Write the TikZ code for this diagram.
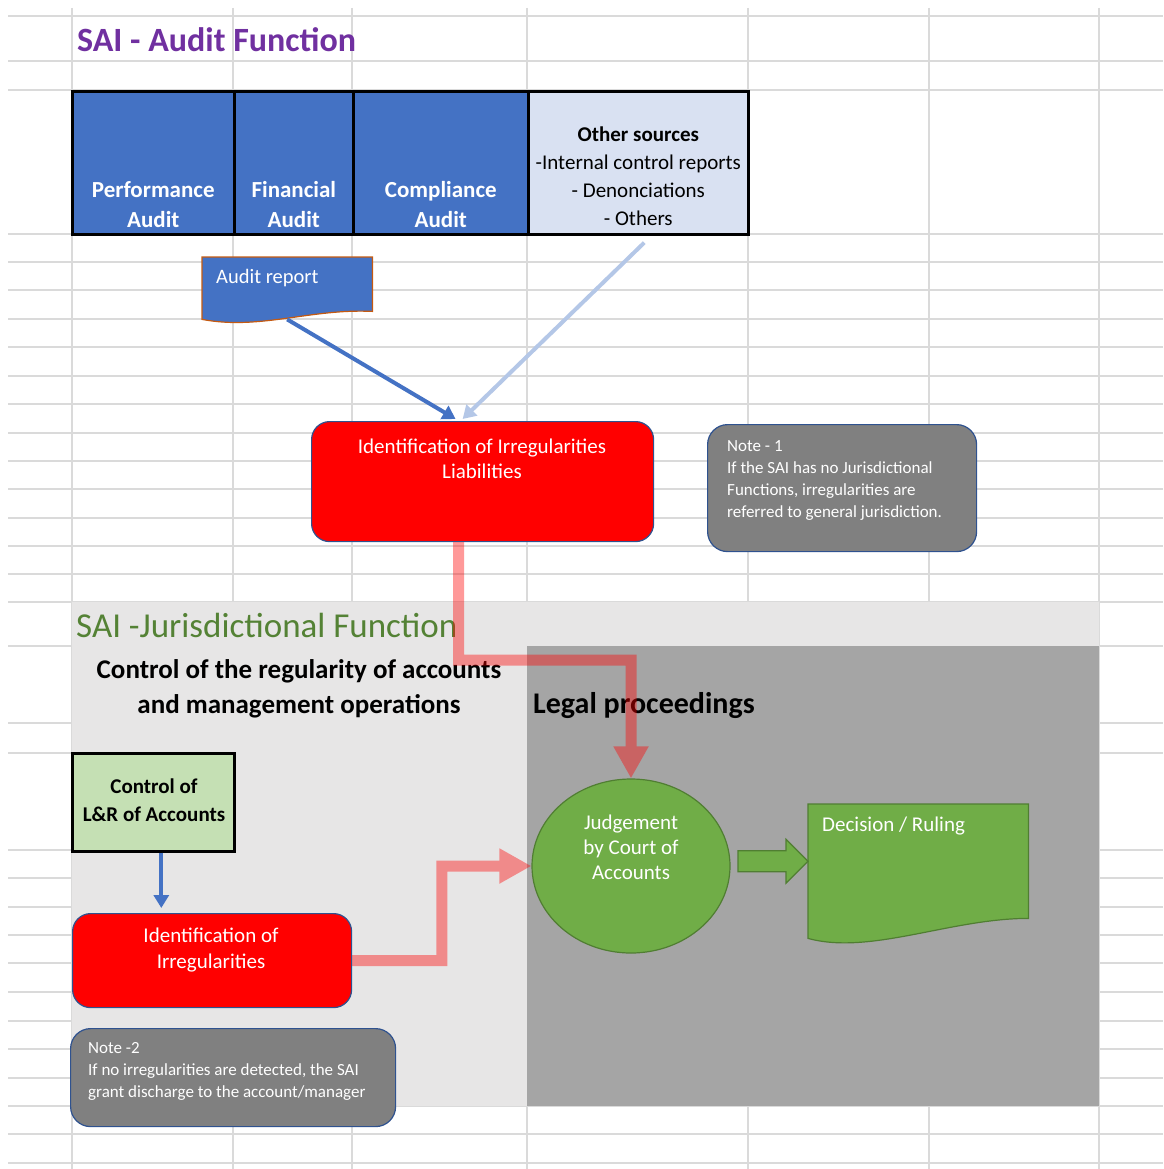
\documentclass[tikz,border=0pt]{standalone}
\usepackage{fontspec}
\setmainfont{Carlito}
\usetikzlibrary{arrows.meta,calc,shapes.geometric}

\definecolor{sheetgray}{HTML}{DADADA}
\definecolor{auditpurple}{HTML}{7030A0}
\definecolor{jurgreen}{HTML}{548235}
\definecolor{accblue}{HTML}{4472C4}
\definecolor{paleblue}{HTML}{D9E1F2}
\definecolor{arrowpale}{HTML}{B4C7E7}
\definecolor{edgeblue}{HTML}{2F528F}
\definecolor{notegray}{HTML}{808080}
\definecolor{areagray}{HTML}{E7E6E6}
\definecolor{legalgray}{HTML}{A5A5A5}
\definecolor{palegreen}{HTML}{C5E0B4}
\definecolor{leafgreen}{HTML}{70AD47}
\definecolor{darkleaf}{HTML}{507E32}
\definecolor{rustedge}{HTML}{C55A11}

\newcommand{\fs}[2]{\fontsize{#1pt}{#2pt}\selectfont}

\tikzset{
  sheetline/.style={draw=sheetgray, line width=1.6pt},
  cell/.style={draw=black, line width=2.6pt, minimum height=143pt, inner sep=0pt, anchor=north west},
  celltext/.style={text=white, font=\fs{23}{30}\bfseries, align=center, inner sep=0pt},
  sectitle/.style={font=\fs{35}{40}, inner sep=0pt, anchor=base west},
  headtext/.style={font=\fs{27}{35}\bfseries, inner sep=0pt},
  boxtext/.style={text=white, font=\fs{21}{25}, inner sep=0pt},
  notetext/.style={text=white, font=\fs{17}{22}, align=left, inner sep=0pt, anchor=north west},
  redbox/.style={draw=edgeblue, line width=1.2pt, fill=red, rounded corners=18pt, inner sep=0pt, anchor=north west},
  notebox/.style={draw=edgeblue, line width=1.2pt, fill=notegray, rounded corners=20pt, inner sep=0pt, anchor=north west},
  frame/.style={inner sep=0pt, anchor=north west},
  bluearrow/.style={draw=accblue, line width=4pt, -{Triangle[width=15pt,length=13pt]}},
  palearrow/.style={draw=arrowpale, line width=4pt, -{Triangle[width=15pt,length=13pt]}},
  pinkarrow/.style={draw=red, line width=11pt, -{Triangle[width=33pt,length=32pt]}},
  greenshape/.style={fill=leafgreen, draw=darkleaf, line width=1.2pt}
}

\begin{document}
\begin{tikzpicture}[x=1pt, y=-1pt]
\useasboundingbox (0,0) rectangle (1163,1169);

% spreadsheet grid
\foreach \y in {16,61,90,234,262,290,319,347,376,404,433,461,489,518,546,574,602,646,723,753,850,878,907,935,963,992,1021,1049,1078,1106,1134,1163}
  \draw[sheetline] (8,\y) -- (1163,\y);
\foreach \x in {72,233,352,527,748,929,1099}
  \draw[sheetline] (\x,8) -- (\x,1169);

% Audit function
\node[sectitle, text=auditpurple, font=\fs{34}{40}\bfseries] (audittitle) at (77,52) {SAI - Audit Function};

\node[cell, fill=accblue, minimum width=162pt] (perf) at (71,90) {};
\node[cell, fill=accblue, minimum width=119pt] (fin) at (233,90) {};
\node[cell, fill=accblue, minimum width=175pt] (comp) at (352,90) {};
\node[cell, fill=paleblue, minimum width=220pt] (other) at (527,90) {};
\node[celltext, anchor=south] (perftxt) at ([yshift=8pt]perf.south) {Performance\\Audit};
\node[celltext, anchor=south] (fintxt) at ([yshift=8pt]fin.south) {Financial\\Audit};
\node[celltext, anchor=south] (comptxt) at ([yshift=8pt]comp.south) {Compliance\\Audit};
\node[inner sep=0pt, font=\fs{21}{28}, align=center, anchor=south] (othertxt) at ([yshift=10pt]other.south)
  {\textbf{Other sources}\\-Internal control reports\\- Denonciations\\- Others};

% Audit report (document shape)
\node[frame, minimum width=170pt, minimum height=54pt] (report) at (202,257) {};
\filldraw[fill=accblue, draw=rustedge, line width=1.2pt] (report.north west) -- (report.north east) -- (report.south east)
  .. controls +(-62,-3) and +(58,11) .. ([yshift=-8pt]report.south west) -- cycle;
\node[boxtext, font=\fs{20.5}{25}, anchor=base west] (reporttxt) at (216,283) {Audit report};

% Irregularities / liabilities
\node[redbox, minimum width=342pt, minimum height=120pt] (liab) at (311,421) {};
\node[boxtext, align=center, anchor=north] (liabtxt) at (482,439) {Identification of Irregularities\\Liabilities};

\draw[bluearrow] ([yshift=-8pt]report.south) -- ([xshift=-27pt,yshift=2pt]liab.north);
\draw[palearrow] ([xshift=6pt,yshift=-7pt]other.south) -- ([xshift=-20pt,yshift=2pt]liab.north);

% Note 1
\node[notebox, minimum width=269pt, minimum height=127pt] (note1) at (707,424) {};
\node[notetext] (note1txt) at (727,440) {Note - 1\\If the SAI has no Jurisdictional\\Functions, irregularities are\\referred to general jurisdiction.};

% Jurisdictional function
\node[frame, fill=areagray, minimum width=1027pt, minimum height=504pt] (jurarea) at (72,602) {};
\node[frame, fill=legalgray, minimum width=572pt, minimum height=460pt] (legalarea) at (527,646) {};
\node[sectitle, text=jurgreen] (jurtitle) at (76,637) {SAI -Jurisdictional Function};
\node[headtext, align=center, anchor=north] (regtxt) at (299,659) {Control of the regularity of accounts\\and management operations};
\node[headtext, font=\fs{30}{35}\bfseries, anchor=base west] (legaltxt) at (533,713) {Legal proceedings};

% Control of L&R
\node[frame, draw=black, line width=2.6pt, fill=palegreen, minimum width=162pt, minimum height=98pt] (lrctrl) at (71,752) {};
\node[inner sep=0pt, font=\fs{21}{28}\bfseries, align=center, anchor=north] (lrtxt) at (154,779) {Control of\\L\&R of Accounts};

\node[redbox, minimum width=279pt, minimum height=94pt] (irr) at (72,913) {};
\node[boxtext, font=\fs{21}{26}, align=center, anchor=north] (irrtxt) at (211,928) {Identification of\\Irregularities};

\draw[bluearrow, shorten >=5pt] ([xshift=8pt]lrctrl.south) -- ([xshift=8pt]lrctrl.south |- irr.north);

% Judgement
\node[ellipse, greenshape, minimum width=198pt, minimum height=174pt, inner sep=0pt] (judge) at (631,866) {};
\node[boxtext, align=center, anchor=north] (judgetxt) at (631,815) {Judgement\\by Court of\\Accounts};

% Decision (document shape)
\node[frame, minimum width=220pt, minimum height=114pt] (decision) at (808,804) {};
\filldraw[greenshape] (decision.north west) -- (decision.north east) -- (decision.south east)
  .. controls +(-78,0) and +(62,17) .. ([yshift=-20pt]decision.south west) -- cycle;
\node[boxtext, anchor=base west] (decisiontxt) at (822,831) {Decision / Ruling};

% block arrow
\filldraw[greenshape] (decision.west) -- ++(-22,-22) -- ++(0,11.5) -- ++(-48,0) -- ++(0,21) -- ++(48,0) -- ++(0,11.5) -- cycle;

% Note 2
\node[notebox, minimum width=325pt, minimum height=98pt] (note2) at (70,1028) {};
\node[notetext] (note2txt) at (88,1042) {Note -2\\If no irregularities are detected, the SAI\\grant discharge to the account/manager};

% pink connectors
\begin{scope}[transparency group, opacity=0.4]
\draw[pinkarrow] ([xshift=-24pt]liab.south) -- ++(0,118) -| (judge.north);
\draw[pinkarrow] (irr.east) -| ($(irr.east)!0.5!(judge.west)$) |- (judge.west);
\end{scope}

\end{tikzpicture}
\end{document}
